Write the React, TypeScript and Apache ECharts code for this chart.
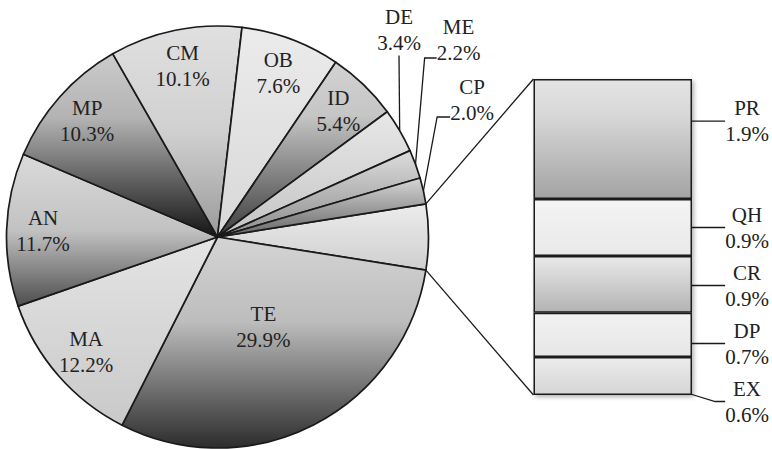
import React, { useEffect, useRef } from 'react';
import * as echarts from 'echarts';

// ---------- data ----------
const pieNames = ['TE', 'MA', 'AN', 'MP', 'CM', 'OB', 'ID', 'DE', 'ME', 'CP'];
const pieValues = [29.9, 12.2, 11.7, 10.3, 10.1, 7.6, 5.4, 3.4, 2.2, 2.0];
const barNames = ['PR', 'QH', 'CR', 'DP', 'EX'];
const barValues = [1.9, 0.9, 0.9, 0.7, 0.6];
const otherName = 'Other';

// ---------- layout ----------
const CX = 217.5;
const CY = 237;
const R = 211;
const BAR = { left: 533.5, top: 79, width: 158.5, height: 316 };
const BAR_LABEL_X = 747;

const innerRingLabels = ['MA', 'AN', 'MP', 'CM', 'OB', 'ID'];
const centerLabels = ['TE'];
const outerLabels: Record<string, any> = {
  DE: { x: 399, y: 29.5, align: 'center', verticalAlign: 'middle', padding: 0, len2: 0, bg: false },
  ME: { x: 523.5, y: 14, align: 'center', verticalAlign: 'top', padding: [0, 130, 36, 0], len2: 12, bg: true },
  CP: { x: 512, y: 74, align: 'center', verticalAlign: 'top', padding: [0, 80, 34, 0], len2: 13, bg: true },
};

// ---------- styles ----------
const pieShades: Record<string, [number, string][]> = {
  Other: [[0, '#ececec'], [1, '#cfcfcf']],
  TE: [[0, '#d4d4d4'], [0.4, '#bdbdbd'], [1, '#2c2c2c']],
  MA: [[0, '#e4e4e4'], [1, '#c9c9c9']],
  AN: [[0, '#dadada'], [0.5, '#c2c2c2'], [1, '#4e4e4e']],
  MP: [[0, '#cbcbcb'], [0.35, '#b3b3b3'], [1, '#151515']],
  CM: [[0, '#e0e0e0'], [0.5, '#d0d0d0'], [1, '#9a9a9a']],
  OB: [[0, '#ebebeb'], [1, '#d8d8d8']],
  ID: [[0, '#d2d2d2'], [0.3, '#c6c6c6'], [1, '#3c3c3c']],
  DE: [[0, '#e8e8e8'], [1, '#c4c4c4']],
  ME: [[0, '#dddddd'], [1, '#8c8c8c']],
  CP: [[0, '#d6d6d6'], [1, '#666666']],
};
const barShades: Record<string, [number, string][]> = {
  PR: [[0, '#e3e3e3'], [0.3, '#d8d8d8'], [1, '#a3a3a3']],
  QH: [[0, '#f4f4f4'], [1, '#e9e9e9']],
  CR: [[0, '#e9e9e9'], [1, '#b3b3b3']],
  DP: [[0, '#f2f2f2'], [1, '#e6e6e6']],
  EX: [[0, '#ececec'], [1, '#d5d5d5']],
};
const LINE = '#1a1a1a';
const FONT = {
  fontFamily: "'Liberation Serif', 'Times New Roman', Times, serif",
  fontSize: 21,
  lineHeight: 26,
  color: '#222222',
};

const grad = (stops: [number, string][]) => ({
  type: 'linear', x: 0, y: 0, x2: 0, y2: 1,
  colorStops: stops.map(([offset, color]) => ({ offset, color })),
});
const fmt = (name: string, v: number) => `${name}\n${v.toFixed(1)}%`;

export default function App() {
  const ref = useRef<HTMLDivElement>(null);

  useEffect(() => {
    if (!ref.current) return;
    const chart = echarts.init(ref.current, null, { renderer: 'svg' });

    const otherValue = barValues.reduce((a, b) => a + b, 0);
    const names = [otherName, ...pieNames];
    const values = [otherValue, ...pieValues];
    const total = values.reduce((a, b) => a + b, 0);
    const startAngle = (otherValue / total) * 360 / 2;

    const mainData = names.map((name, i) => {
      const o = outerLabels[name];
      return {
        name,
        value: values[i],
        itemStyle: { color: grad(pieShades[name]) },
        label: o
          ? {
              show: true,
              position: 'outside',
              padding: o.padding,
              backgroundColor: o.bg ? 'rgba(0,0,0,0)' : undefined,
            }
          : { show: false },
        labelLine: o ? { show: true, length2: o.len2 } : { show: false },
      };
    });

    const overlayData = (shown: string[]) =>
      names.map((name, i) => ({
        name,
        value: values[i],
        label: { show: shown.includes(name) },
      }));

    const overlayBase = {
      type: 'pie',
      center: [CX, CY],
      startAngle,
      clockwise: true,
      silent: true,
      avoidLabelOverlap: false,
      itemStyle: { color: 'rgba(0,0,0,0)', borderWidth: 0 },
      emphasis: { disabled: true },
      labelLine: { show: false },
      label: {
        position: 'inside',
        formatter: (p: any) => fmt(p.name, p.value),
        ...FONT,
      },
      z: 3,
    };

    const barSeries = barNames.map((name, i) => ({
      type: 'bar',
      name,
      stack: 'other',
      data: [barValues[i]],
      barWidth: '100%',
      silent: true,
      emphasis: { disabled: true },
      itemStyle: {
        color: grad(barShades[name]),
        borderColor: LINE,
        borderWidth: 1.5,
        shadowColor: 'rgba(0,0,0,0.3)',
        shadowBlur: 4,
        shadowOffsetX: 2,
        shadowOffsetY: 2,
      },
      label: {
        show: true,
        position: 'inside',
        formatter: (p: any) => fmt(p.seriesName, p.value),
        padding: [3, 0, 3, 0],
        backgroundColor: 'rgba(0,0,0,0)',
        ...FONT,
      },
      labelLine: { show: true, length2: 10, lineStyle: { color: LINE, width: 1.3 } },
      labelLayout: {
        x: BAR_LABEL_X,
        align: 'center',
        verticalAlign: 'middle',
        moveOverlap: 'shiftY',
        dy: name === 'PR' ? -9 : 0,
      },
    }));

    chart.setOption({
      animation: false,
      backgroundColor: '#ffffff',
      grid: { left: BAR.left, top: BAR.top, width: BAR.width, height: BAR.height, containLabel: false },
      xAxis: { type: 'category', data: [''], show: false },
      yAxis: { type: 'value', min: 0, max: otherValue, inverse: true, show: false },
      series: [
        {
          type: 'pie',
          center: [CX, CY],
          radius: [0, R],
          startAngle,
          clockwise: true,
          silent: true,
          avoidLabelOverlap: false,
          emphasis: { disabled: true },
          itemStyle: { borderColor: LINE, borderWidth: 1.7 },
          label: {
            formatter: (p: any) => fmt(p.name, p.value),
            ...FONT,
          },
          labelLine: {
            minTurnAngle: 0,
            lineStyle: { color: LINE, width: 1.3 },
          },
          labelLayout: (p: any) => {
            const o = outerLabels[names[p.dataIndex]];
            if (!o) return {};
            return { x: o.x, y: o.y, align: o.align, verticalAlign: o.verticalAlign };
          },
          data: mainData,
          z: 2,
        },
        { ...overlayBase, radius: [132, R], data: overlayData(innerRingLabels) },
        { ...overlayBase, radius: [20, 176], data: overlayData(centerLabels) },
        ...barSeries,
      ],
    });

    // connector lines from the "other" slice to the bar
    const a = (startAngle * Math.PI) / 180;
    const px = CX + R * Math.cos(a);
    const pyTop = CY - R * Math.sin(a);
    const pyBot = CY + R * Math.sin(a);
    const barTop = chart.convertToPixel({ yAxisIndex: 0 }, 0) as number;
    const barBot = chart.convertToPixel({ yAxisIndex: 0 }, otherValue) as number;
    chart.setOption({
      graphic: [
        { type: 'line', shape: { x1: px, y1: pyTop, x2: BAR.left, y2: barTop }, style: { stroke: LINE, lineWidth: 1.3 }, silent: true },
        { type: 'line', shape: { x1: px, y1: pyBot, x2: BAR.left, y2: barBot }, style: { stroke: LINE, lineWidth: 1.3 }, silent: true },
      ],
    });

    return () => chart.dispose();
  }, []);

  return (
    <div
      ref={ref}
      style={{ position: 'fixed', left: 0, top: 0, width: 772, height: 449, background: '#fff' }}
    />
  );
}
